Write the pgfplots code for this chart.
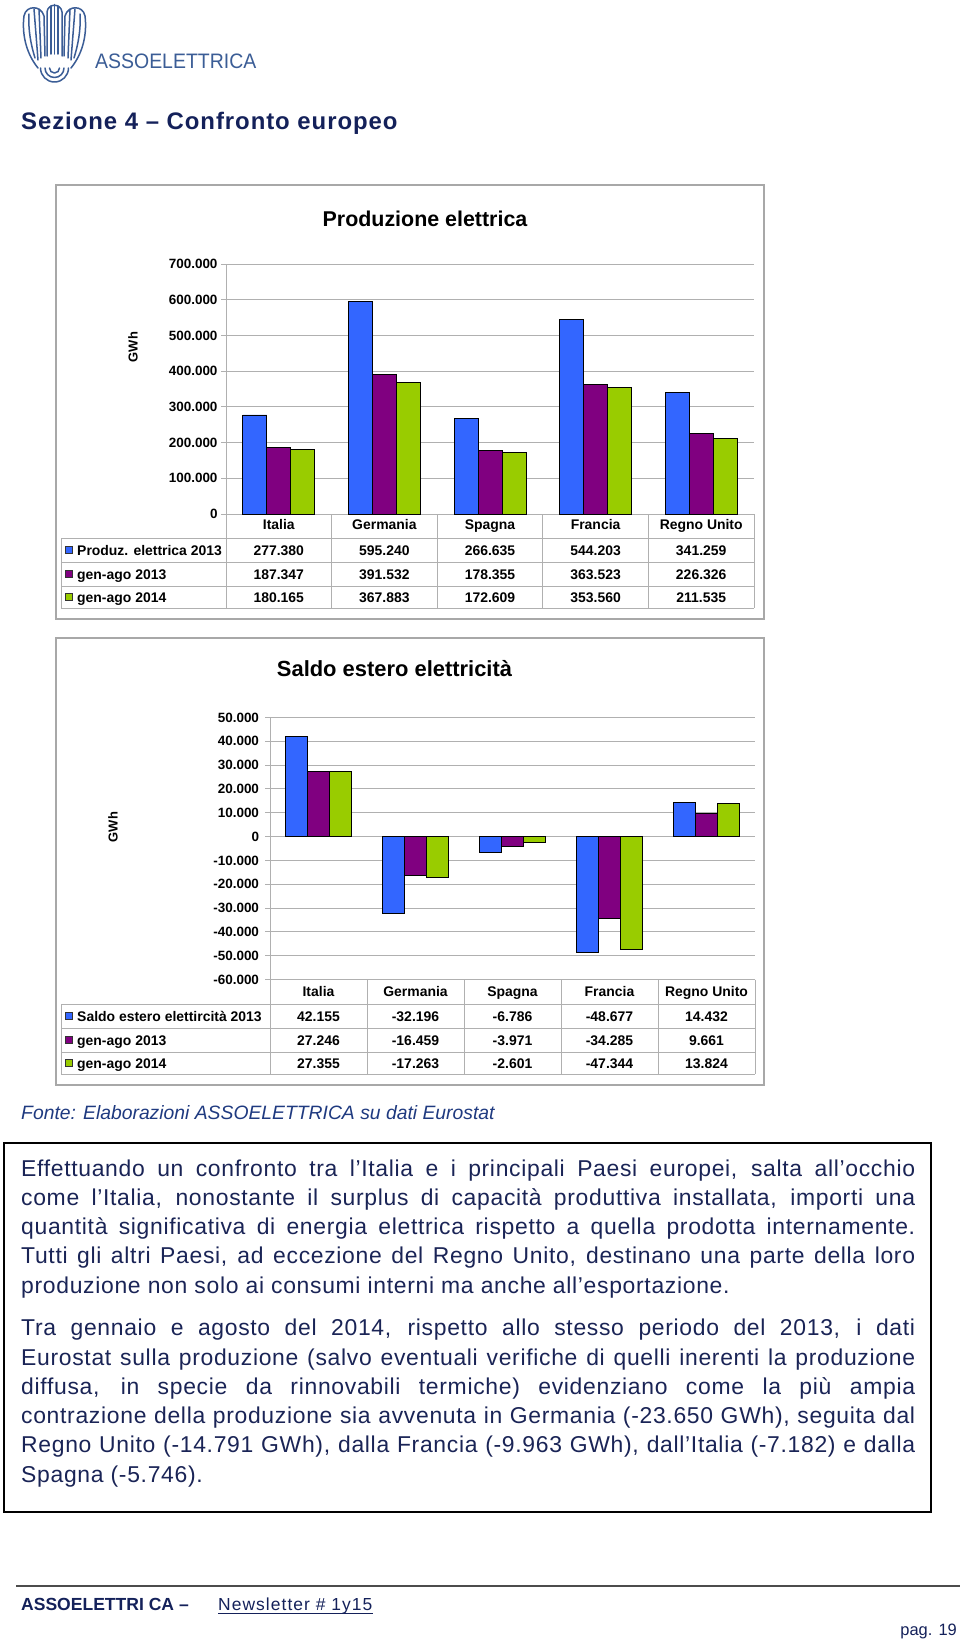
\documentclass[border=0pt]{standalone}
\usepackage{pgfplots}
\pgfplotsset{compat=1.18}
\usepackage{fontspec}
\setmainfont{Liberation Sans}
\newfontfamily\bodyfont{Liberation Sans}[LetterSpace=3]
\newfontfamily\titlefont{Liberation Sans}[LetterSpace=4]
\newfontfamily\logofont{Liberation Sans}[FakeStretch=0.93]
\newfontfamily\newsfont{Liberation Sans}[LetterSpace=6]
\definecolor{cblue}{HTML}{3366FF}
\definecolor{cpurple}{HTML}{800080}
\definecolor{cgreen}{HTML}{99CC00}
\definecolor{navy}{HTML}{1A2456}
\definecolor{titlenavy}{HTML}{14215A}
\definecolor{logoblue}{HTML}{3B5D96}
\definecolor{fonteblue}{HTML}{1F3A80}
\definecolor{gridgray}{HTML}{B0B0B0}
\definecolor{framegray}{HTML}{A8A8A8}

\pgfplotsset{barchart/.style={
  scale only axis, anchor=south west, scaled y ticks=false,
  xmin=-0.5, xmax=4.5, xtick={0,...,4},
  xticklabels={Italia,Germania,Spagna,Francia,Regno Unito},
  axis x line*=bottom, axis y line*=left,
  axis line style={gridgray, line width=1bp},
  ymajorgrids, grid style={gridgray, line width=1bp},
  tick align=outside, major tick length=5bp,
  xtick style={draw=none}, ytick style={gridgray, line width=1bp},
  yticklabel style={font=\bfseries\fontsize{13.5}{14}\selectfont},
  xticklabel style={font=\bfseries\fontsize{14}{15}\selectfont, anchor=base},
  clip=false,
}}
\pgfplotsset{b1/.style={ybar, bar width=24bp, draw=black, line width=0.8bp},
             b2/.style={ybar, bar width=22bp, draw=black, line width=0.8bp}}

\begin{document}
\begin{tikzpicture}
\path[use as bounding box, fill=white] (0,0) rectangle (960bp,-1647bp);

% ---------- Chart 1 ----------
\begin{axis}[barchart, at={(226bp,-514bp)}, width=528bp, height=250bp,
  xticklabel style={yshift=-10bp},
  ymin=0, ymax=700000, ytick={0,100000,...,700000},
  yticklabels={0,100.000,200.000,300.000,400.000,500.000,600.000,700.000}]
\addplot[b1, bar shift=-24bp, fill=cblue] coordinates {(0,277380) (1,595240) (2,266635) (3,544203) (4,341259)};
\addplot[b1, bar shift=0bp, fill=cpurple] coordinates {(0,187347) (1,391532) (2,178355) (3,363523) (4,226326)};
\addplot[b1, bar shift=24bp, fill=cgreen] coordinates {(0,180165) (1,367883) (2,172609) (3,353560) (4,211535)};
\end{axis}

% ---------- Chart 2 ----------
\begin{axis}[barchart, at={(270bp,-979.5bp)}, width=485bp, height=262bp,
  xticklabel style={yshift=-12bp},
  ymin=-60000, ymax=50000, ytick={-60000,-50000,...,50000},
  yticklabels={-60.000,-50.000,-40.000,-30.000,-20.000,-10.000,0,10.000,20.000,30.000,40.000,50.000},
  yticklabel style={xshift=-2.5bp}]
\addplot[b2, bar shift=-22bp, fill=cblue] coordinates {(0,42155) (1,-32196) (2,-6786) (3,-48677) (4,14432)};
\addplot[b2, bar shift=0bp, fill=cpurple] coordinates {(0,27246) (1,-16459) (2,-3971) (3,-34285) (4,9661)};
\addplot[b2, bar shift=22bp, fill=cgreen] coordinates {(0,27355) (1,-17263) (2,-2601) (3,-47344) (4,13824)};
\end{axis}

\begin{scope}[x=1bp, y=-1bp]
% logo
\begin{scope}[line width=1.5bp, draw=logoblue, line cap=round, line join=round]
\draw (38,68) .. controls (25,52) and (22,32) .. (24,16) .. controls (26,5) and (41,5) .. (44,16) -- (45,56);
\draw (29,14) .. controls (28,30) and (31,45) .. (35,58);
\draw (34,9) -- (38,60);
\draw (39,9) -- (41,58);
\draw (47,56) -- (47,12) .. controls (48,3) and (61,3) .. (62,12) -- (62,56);
\draw (51,6) -- (51,54);
\draw (54.5,4.5) -- (54.5,54);
\draw (58,6) -- (58,54);
\draw (71,68) .. controls (84,52) and (87,32) .. (85,16) .. controls (83,5) and (68,5) .. (65,16) -- (64,56);
\draw (80,14) .. controls (81,30) and (78,45) .. (74,58);
\draw (75,9) -- (71,60);
\draw (70,9) -- (68,58);
\draw (49.5,68) arc[start angle=180, end angle=0, radius=5];
\draw (45,68) arc[start angle=180, end angle=0, radius=9.5];
\draw (40.5,68) arc[start angle=180, end angle=0, radius=14];
\end{scope}
\node[anchor=base west, inner sep=0, text=logoblue, font=\logofont\fontsize{21}{22}\selectfont] at (95,68.8) {ASSOELETTRICA};

% section title
\node[anchor=base west, inner sep=0, text=titlenavy, font=\titlefont\bfseries\fontsize{24}{26}\selectfont] at (21,129) {Sezione 4 – Confronto europeo};

% chart frames
\draw[framegray, line width=1.5bp] (56,185) rectangle (764,619);
\draw[framegray, line width=1.5bp] (56,638) rectangle (764,1085);

% chart titles
\node[anchor=base, inner sep=0, font=\bfseries\fontsize{21.5}{23}\selectfont] at (425,226.7) {Produzione elettrica};
\node[anchor=base, inner sep=0, font=\bfseries\fontsize{22}{23}\selectfont] at (394.5,676) {Saldo estero elettricità};

% GWh labels
\node[rotate=90, inner sep=0, font=\bfseries\fontsize{13}{14}\selectfont] at (133,347) {GWh};
\node[rotate=90, inner sep=0, font=\bfseries\fontsize{13}{14}\selectfont] at (113,827) {GWh};

% data table grid
\begin{scope}[gridgray, line width=1bp]
\foreach \yy in {538,562,586,608} \draw (61,\yy) -- (754,\yy);
\draw (61,538) -- (61,608);
\foreach \xx in {226,331.6,437.2,542.8,648.4,754} \draw (\xx,514) -- (\xx,608);
\foreach \yy in {1004,1028,1052,1074} \draw (61,\yy) -- (755,\yy);
\draw (61,1004) -- (61,1074);
\foreach \xx in {270,367,464,561,658,755} \draw (\xx,979.5) -- (\xx,1074);
\end{scope}

\begin{scope}[every node/.style={inner sep=0, anchor=base, font=\bfseries\fontsize{14}{15}\selectfont}]
% table 1
\filldraw[fill=cblue, draw=black!80, line width=0.6bp] (65,546.5) rectangle (72,553.5);
\filldraw[fill=cpurple, draw=black!80, line width=0.6bp] (65,570.5) rectangle (72,577.5);
\filldraw[fill=cgreen, draw=black!80, line width=0.6bp] (65,593.5) rectangle (72,600.5);
\node[anchor=base west] at (77,555) {Produz. elettrica 2013};
\node[anchor=base west] at (77,579) {gen-ago 2013};
\node[anchor=base west] at (77,602) {gen-ago 2014};
\node at (278.8,555) {277.380}; \node at (384.4,555) {595.240}; \node at (490,555) {266.635}; \node at (595.6,555) {544.203}; \node at (701.2,555) {341.259};
\node at (278.8,579) {187.347}; \node at (384.4,579) {391.532}; \node at (490,579) {178.355}; \node at (595.6,579) {363.523}; \node at (701.2,579) {226.326};
\node at (278.8,602) {180.165}; \node at (384.4,602) {367.883}; \node at (490,602) {172.609}; \node at (595.6,602) {353.560}; \node at (701.2,602) {211.535};
% table 2
\filldraw[fill=cblue, draw=black!80, line width=0.6bp] (65,1012.5) rectangle (72,1019.5);
\filldraw[fill=cpurple, draw=black!80, line width=0.6bp] (65,1036.5) rectangle (72,1043.5);
\filldraw[fill=cgreen, draw=black!80, line width=0.6bp] (65,1059.5) rectangle (72,1066.5);
\node[anchor=base west] at (77,1021) {Saldo estero elettircità 2013};
\node[anchor=base west] at (77,1045) {gen-ago 2013};
\node[anchor=base west] at (77,1068) {gen-ago 2014};
\node at (318.5,1021) {42.155}; \node at (415.5,1021) {-32.196}; \node at (512.5,1021) {-6.786}; \node at (609.5,1021) {-48.677}; \node at (706.5,1021) {14.432};
\node at (318.5,1045) {27.246}; \node at (415.5,1045) {-16.459}; \node at (512.5,1045) {-3.971}; \node at (609.5,1045) {-34.285}; \node at (706.5,1045) {9.661};
\node at (318.5,1068) {27.355}; \node at (415.5,1068) {-17.263}; \node at (512.5,1068) {-2.601}; \node at (609.5,1068) {-47.344}; \node at (706.5,1068) {13.824};
\end{scope}

% source
\node[anchor=base west, inner sep=0, text=fonteblue, font=\itshape\fontsize{19.4}{21}\selectfont] at (21,1119) {Fonte: Elaborazioni ASSOELETTRICA su dati Eurostat};

% text box
\draw[black, line width=2bp] (4,1143) rectangle (931,1512);
\node[anchor=north west, inner sep=0pt, text width=894bp, align=justify, text=navy, font=\bodyfont\fontsize{23}{29.4}\selectfont] at (21,1155.4) {%
\strut Effettuando un confronto tra l’Italia e i principali Paesi europei, salta all’occhio\linebreak
come l’Italia, nonostante il surplus di capacità produttiva installata, importi una\linebreak
quantità significativa di energia elettrica rispetto a quella prodotta internamente.\linebreak
Tutti gli altri Paesi, ad eccezione del Regno Unito, destinano una parte della loro\linebreak
produzione non solo ai consumi interni ma anche all’esportazione.\par
\vspace{13.2bp}
\strut Tra gennaio e agosto del 2014, rispetto allo stesso periodo del 2013, i dati\linebreak
Eurostat sulla produzione (salvo eventuali verifiche di quelli inerenti la produzione\linebreak
diffusa, in specie da rinnovabili termiche) evidenziano come la più ampia\linebreak
contrazione della produzione sia avvenuta in Germania (-23.650 GWh), seguita dal\linebreak
Regno Unito (-14.791 GWh), dalla Francia (-9.963 GWh), dall’Italia (-7.182) e dalla\linebreak
Spagna (-5.746).};

% footer
\draw[black!70, line width=2bp] (16,1586) -- (960,1586);
\node[anchor=base west, inner sep=0, text=titlenavy, font=\bfseries\fontsize{17.6}{18}\selectfont] at (21,1610) {ASSOELETTRI CA –};
\node[anchor=base west, inner sep=0, text=titlenavy, font=\newsfont\fontsize{17.5}{18}\selectfont] (nl) at (218,1610) {Newsletter \# 1y15};
\draw[titlenavy, line width=1bp] (218,1613) -- (nl.base east |- 0,1613);
\node[anchor=base east, inner sep=0, text=titlenavy, font=\fontsize{16.5}{17}\selectfont] at (957,1635) {pag. 19};
\end{scope}
\end{tikzpicture}
\end{document}
